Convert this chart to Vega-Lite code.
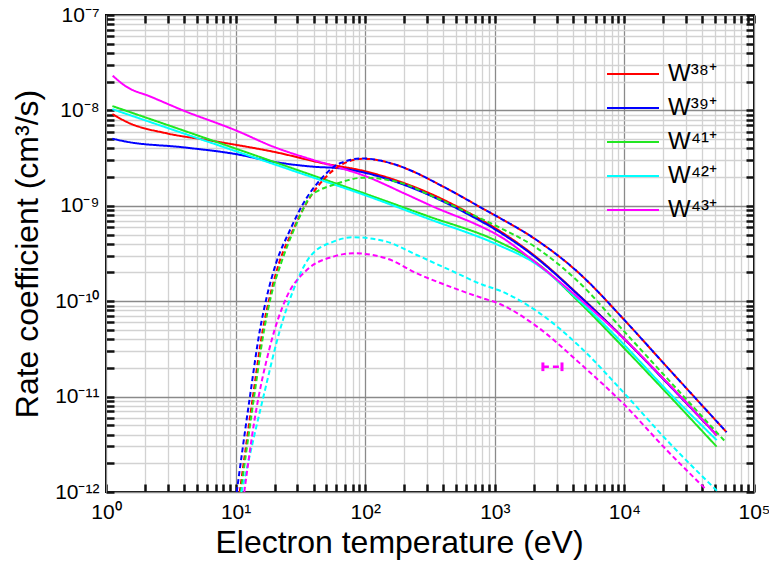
{
  "$schema": "https://vega.github.io/schema/vega-lite/v6.json",
  "width": 648,
  "height": 477,
  "autosize": "none",
  "padding": {"left": 106, "top": 15, "right": 15, "bottom": 78},
  "background": "white",
  "config": {
    "font": "Liberation Sans",
    "view": {"stroke": "black", "strokeWidth": 2},
    "axis": {"labelFont": "Liberation Sans", "titleFont": "Liberation Sans", "titleFontWeight": "normal", "labelColor": "black", "titleColor": "black"}
  },
  "datasets": {
    "curves": [
      {"s":"W³⁸⁺","k":"solid","T":1.12,"R":9.17e-9},
      {"s":"W³⁸⁺","k":"solid","T":1.43,"R":7.62e-9},
      {"s":"W³⁸⁺","k":"solid","T":2.94,"R":5.75e-9},
      {"s":"W³⁸⁺","k":"solid","T":5.98,"R":4.9e-9},
      {"s":"W³⁸⁺","k":"solid","T":10.2,"R":4.34e-9},
      {"s":"W³⁸⁺","k":"solid","T":19.5,"R":3.69e-9},
      {"s":"W³⁸⁺","k":"solid","T":47.5,"R":2.79e-9},
      {"s":"W³⁸⁺","k":"solid","T":102.6,"R":2.28e-9},
      {"s":"W³⁸⁺","k":"solid","T":185.7,"R":1.79e-9},
      {"s":"W³⁸⁺","k":"solid","T":335,"R":1.30e-9},
      {"s":"W³⁸⁺","k":"solid","T":607,"R":8.67e-10},
      {"s":"W³⁸⁺","k":"solid","T":1064,"R":5.57e-10},
      {"s":"W³⁸⁺","k":"solid","T":2040,"R":2.98e-10},
      {"s":"W³⁸⁺","k":"solid","T":4540,"R":1.13e-10},
      {"s":"W³⁸⁺","k":"solid","T":10000,"R":4.02e-11},
      {"s":"W³⁸⁺","k":"solid","T":21200,"R":1.42e-11},
      {"s":"W³⁸⁺","k":"solid","T":51500,"R":3.95e-12},

      {"s":"W³⁹⁺","k":"solid","T":1.12,"R":5.05e-9},
      {"s":"W³⁹⁺","k":"solid","T":1.44,"R":4.7e-9},
      {"s":"W³⁹⁺","k":"solid","T":3.95,"R":4.1e-9},
      {"s":"W³⁹⁺","k":"solid","T":10.2,"R":3.47e-9},
      {"s":"W³⁹⁺","k":"solid","T":19.4,"R":2.9e-9},
      {"s":"W³⁹⁺","k":"solid","T":39.6,"R":2.57e-9},
      {"s":"W³⁹⁺","k":"solid","T":63.7,"R":2.47e-9},
      {"s":"W³⁹⁺","k":"solid","T":91,"R":2.28e-9},
      {"s":"W³⁹⁺","k":"solid","T":185.7,"R":1.72e-9},
      {"s":"W³⁹⁺","k":"solid","T":335,"R":1.24e-9},
      {"s":"W³⁹⁺","k":"solid","T":607,"R":8.3e-10},
      {"s":"W³⁹⁺","k":"solid","T":1064,"R":5.4e-10},
      {"s":"W³⁹⁺","k":"solid","T":2040,"R":2.92e-10},
      {"s":"W³⁹⁺","k":"solid","T":4540,"R":1.12e-10},
      {"s":"W³⁹⁺","k":"solid","T":10000,"R":4.0e-11},
      {"s":"W³⁹⁺","k":"solid","T":21200,"R":1.4e-11},
      {"s":"W³⁹⁺","k":"solid","T":51500,"R":3.95e-12},

      {"s":"W⁴¹⁺","k":"solid","T":1.12,"R":1.11e-8},
      {"s":"W⁴¹⁺","k":"solid","T":3,"R":7.01e-9},
      {"s":"W⁴¹⁺","k":"solid","T":10,"R":3.98e-9},
      {"s":"W⁴¹⁺","k":"solid","T":30,"R":2.37e-9},
      {"s":"W⁴¹⁺","k":"solid","T":100,"R":1.34e-9},
      {"s":"W⁴¹⁺","k":"solid","T":300,"R":7.85e-10},
      {"s":"W⁴¹⁺","k":"solid","T":1064,"R":4.21e-10},
      {"s":"W⁴¹⁺","k":"solid","T":2040,"R":2.6e-10},
      {"s":"W⁴¹⁺","k":"solid","T":4540,"R":9.6e-11},
      {"s":"W⁴¹⁺","k":"solid","T":10000,"R":3.2e-11},
      {"s":"W⁴¹⁺","k":"solid","T":21200,"R":1.09e-11},
      {"s":"W⁴¹⁺","k":"solid","T":51500,"R":2.99e-12},

      {"s":"W⁴²⁺","k":"solid","T":1.12,"R":1.03e-8},
      {"s":"W⁴²⁺","k":"solid","T":3,"R":6.53e-9},
      {"s":"W⁴²⁺","k":"solid","T":10,"R":3.74e-9},
      {"s":"W⁴²⁺","k":"solid","T":30,"R":2.25e-9},
      {"s":"W⁴²⁺","k":"solid","T":100,"R":1.29e-9},
      {"s":"W⁴²⁺","k":"solid","T":300,"R":7.4e-10},
      {"s":"W⁴²⁺","k":"solid","T":1064,"R":3.88e-10},
      {"s":"W⁴²⁺","k":"solid","T":2040,"R":2.5e-10},
      {"s":"W⁴²⁺","k":"solid","T":4540,"R":1.0e-10},
      {"s":"W⁴²⁺","k":"solid","T":10000,"R":3.47e-11},
      {"s":"W⁴²⁺","k":"solid","T":21200,"R":1.17e-11},
      {"s":"W⁴²⁺","k":"solid","T":51500,"R":3.5e-12},

      {"s":"W⁴³⁺","k":"solid","T":1.126,"R":2.31e-8},
      {"s":"W⁴³⁺","k":"solid","T":1.43,"R":1.78e-8},
      {"s":"W⁴³⁺","k":"solid","T":2.19,"R":1.40e-8},
      {"s":"W⁴³⁺","k":"solid","T":3.93,"R":1.0e-8},
      {"s":"W⁴³⁺","k":"solid","T":10.2,"R":6.12e-9},
      {"s":"W⁴³⁺","k":"solid","T":19.5,"R":4.17e-9},
      {"s":"W⁴³⁺","k":"solid","T":39.8,"R":3.02e-9},
      {"s":"W⁴³⁺","k":"solid","T":56.8,"R":2.62e-9},
      {"s":"W⁴³⁺","k":"solid","T":100,"R":2.05e-9},
      {"s":"W⁴³⁺","k":"solid","T":200,"R":1.35e-9},
      {"s":"W⁴³⁺","k":"solid","T":335,"R":9.8e-10},
      {"s":"W⁴³⁺","k":"solid","T":815,"R":5.9e-10},
      {"s":"W⁴³⁺","k":"solid","T":1064,"R":4.9e-10},
      {"s":"W⁴³⁺","k":"solid","T":2040,"R":2.58e-10},
      {"s":"W⁴³⁺","k":"solid","T":4540,"R":1.05e-10},
      {"s":"W⁴³⁺","k":"solid","T":10000,"R":4.0e-11},
      {"s":"W⁴³⁺","k":"solid","T":21200,"R":1.42e-11},
      {"s":"W⁴³⁺","k":"solid","T":51500,"R":3.95e-12},

      {"s":"W³⁸⁺","k":"dashed","T":10.76,"R":1e-12},
      {"s":"W³⁸⁺","k":"dashed","T":13.6,"R":1.0e-11},
      {"s":"W³⁸⁺","k":"dashed","T":16.2,"R":5.0e-11},
      {"s":"W³⁸⁺","k":"dashed","T":18.35,"R":1.11e-10},
      {"s":"W³⁸⁺","k":"dashed","T":21.6,"R":2.49e-10},
      {"s":"W³⁸⁺","k":"dashed","T":27.7,"R":5.57e-10},
      {"s":"W³⁸⁺","k":"dashed","T":35.1,"R":1.06e-9},
      {"s":"W³⁸⁺","k":"dashed","T":47.3,"R":1.86e-9},
      {"s":"W³⁸⁺","k":"dashed","T":67.4,"R":2.75e-9},
      {"s":"W³⁸⁺","k":"dashed","T":97,"R":3.12e-9},
      {"s":"W³⁸⁺","k":"dashed","T":130,"R":2.98e-9},
      {"s":"W³⁸⁺","k":"dashed","T":185.7,"R":2.6e-9},
      {"s":"W³⁸⁺","k":"dashed","T":250,"R":2.2e-9},
      {"s":"W³⁸⁺","k":"dashed","T":335,"R":1.8e-9},
      {"s":"W³⁸⁺","k":"dashed","T":500,"R":1.35e-9},
      {"s":"W³⁸⁺","k":"dashed","T":769,"R":9.7e-10},
      {"s":"W³⁸⁺","k":"dashed","T":1064,"R":7.6e-10},
      {"s":"W³⁸⁺","k":"dashed","T":2040,"R":4.5e-10},
      {"s":"W³⁸⁺","k":"dashed","T":4540,"R":1.93e-10},
      {"s":"W³⁸⁺","k":"dashed","T":10000,"R":6.35e-11},
      {"s":"W³⁸⁺","k":"dashed","T":21200,"R":2.06e-11},
      {"s":"W³⁸⁺","k":"dashed","T":61500,"R":4.23e-12},

      {"s":"W³⁹⁺","k":"dashed","T":10.2,"R":1e-12},
      {"s":"W³⁹⁺","k":"dashed","T":12.9,"R":1.0e-11},
      {"s":"W³⁹⁺","k":"dashed","T":15.4,"R":4.99e-11},
      {"s":"W³⁹⁺","k":"dashed","T":17.4,"R":1.11e-10},
      {"s":"W³⁹⁺","k":"dashed","T":20.5,"R":2.49e-10},
      {"s":"W³⁹⁺","k":"dashed","T":26.3,"R":5.57e-10},
      {"s":"W³⁹⁺","k":"dashed","T":33.3,"R":1.06e-9},
      {"s":"W³⁹⁺","k":"dashed","T":44.8,"R":1.86e-9},
      {"s":"W³⁹⁺","k":"dashed","T":63.9,"R":2.79e-9},
      {"s":"W³⁹⁺","k":"dashed","T":96,"R":3.14e-9},
      {"s":"W³⁹⁺","k":"dashed","T":130,"R":2.98e-9},
      {"s":"W³⁹⁺","k":"dashed","T":185.7,"R":2.6e-9},
      {"s":"W³⁹⁺","k":"dashed","T":250,"R":2.2e-9},
      {"s":"W³⁹⁺","k":"dashed","T":335,"R":1.8e-9},
      {"s":"W³⁹⁺","k":"dashed","T":500,"R":1.35e-9},
      {"s":"W³⁹⁺","k":"dashed","T":769,"R":9.7e-10},
      {"s":"W³⁹⁺","k":"dashed","T":1064,"R":7.6e-10},
      {"s":"W³⁹⁺","k":"dashed","T":2040,"R":4.5e-10},
      {"s":"W³⁹⁺","k":"dashed","T":4540,"R":1.93e-10},
      {"s":"W³⁹⁺","k":"dashed","T":10000,"R":6.35e-11},
      {"s":"W³⁹⁺","k":"dashed","T":21200,"R":2.06e-11},
      {"s":"W³⁹⁺","k":"dashed","T":61500,"R":4.23e-12},

      {"s":"W⁴¹⁺","k":"dashed","T":10.95,"R":1e-12},
      {"s":"W⁴¹⁺","k":"dashed","T":13.9,"R":1.0e-11},
      {"s":"W⁴¹⁺","k":"dashed","T":16.6,"R":5.0e-11},
      {"s":"W⁴¹⁺","k":"dashed","T":18.7,"R":1.11e-10},
      {"s":"W⁴¹⁺","k":"dashed","T":22.4,"R":2.49e-10},
      {"s":"W⁴¹⁺","k":"dashed","T":27.7,"R":5.31e-10},
      {"s":"W⁴¹⁺","k":"dashed","T":31.4,"R":7.82e-10},
      {"s":"W⁴¹⁺","k":"dashed","T":37.5,"R":1.25e-9},
      {"s":"W⁴¹⁺","k":"dashed","T":44.8,"R":1.47e-9},
      {"s":"W⁴¹⁺","k":"dashed","T":56.8,"R":1.66e-9},
      {"s":"W⁴¹⁺","k":"dashed","T":97,"R":1.97e-9},
      {"s":"W⁴¹⁺","k":"dashed","T":185.7,"R":1.75e-9},
      {"s":"W⁴¹⁺","k":"dashed","T":335,"R":1.25e-9},
      {"s":"W⁴¹⁺","k":"dashed","T":607,"R":8.6e-10},
      {"s":"W⁴¹⁺","k":"dashed","T":1064,"R":6.0e-10},
      {"s":"W⁴¹⁺","k":"dashed","T":2040,"R":3.72e-10},
      {"s":"W⁴¹⁺","k":"dashed","T":4540,"R":1.54e-10},
      {"s":"W⁴¹⁺","k":"dashed","T":10000,"R":4.79e-11},
      {"s":"W⁴¹⁺","k":"dashed","T":21200,"R":1.57e-11},
      {"s":"W⁴¹⁺","k":"dashed","T":59700,"R":3.4e-12},

      {"s":"W⁴²⁺","k":"dashed","T":11.1,"R":1e-12},
      {"s":"W⁴²⁺","k":"dashed","T":16.4,"R":1e-11},
      {"s":"W⁴²⁺","k":"dashed","T":22,"R":5e-11},
      {"s":"W⁴²⁺","k":"dashed","T":27.9,"R":1.31e-10},
      {"s":"W⁴²⁺","k":"dashed","T":37.5,"R":2.93e-10},
      {"s":"W⁴²⁺","k":"dashed","T":56.8,"R":4.21e-10},
      {"s":"W⁴²⁺","k":"dashed","T":81,"R":4.68e-10},
      {"s":"W⁴²⁺","k":"dashed","T":146,"R":4.21e-10},
      {"s":"W⁴²⁺","k":"dashed","T":250,"R":3.05e-10},
      {"s":"W⁴²⁺","k":"dashed","T":451,"R":2.12e-10},
      {"s":"W⁴²⁺","k":"dashed","T":815,"R":1.48e-10},
      {"s":"W⁴²⁺","k":"dashed","T":1064,"R":1.31e-10},
      {"s":"W⁴²⁺","k":"dashed","T":2040,"R":8.1e-11},
      {"s":"W⁴²⁺","k":"dashed","T":4540,"R":3.33e-11},
      {"s":"W⁴²⁺","k":"dashed","T":10000,"R":1.08e-11},
      {"s":"W⁴²⁺","k":"dashed","T":21200,"R":3.5e-12},
      {"s":"W⁴²⁺","k":"dashed","T":53000,"R":1.0e-12},

      {"s":"W⁴³⁺","k":"dashed","T":11.67,"R":1e-12},
      {"s":"W⁴³⁺","k":"dashed","T":14.0,"R":5.7e-12},
      {"s":"W⁴³⁺","k":"dashed","T":18.4,"R":3.33e-11},
      {"s":"W⁴³⁺","k":"dashed","T":24.8,"R":1.11e-10},
      {"s":"W⁴³⁺","k":"dashed","T":35.4,"R":2.12e-10},
      {"s":"W⁴³⁺","k":"dashed","T":56.8,"R":2.93e-10},
      {"s":"W⁴³⁺","k":"dashed","T":81,"R":3.18e-10},
      {"s":"W⁴³⁺","k":"dashed","T":146,"R":2.81e-10},
      {"s":"W⁴³⁺","k":"dashed","T":250,"R":1.96e-10},
      {"s":"W⁴³⁺","k":"dashed","T":451,"R":1.42e-10},
      {"s":"W⁴³⁺","k":"dashed","T":815,"R":1.07e-10},
      {"s":"W⁴³⁺","k":"dashed","T":1064,"R":9.5e-11},
      {"s":"W⁴³⁺","k":"dashed","T":2040,"R":5.62e-11},
      {"s":"W⁴³⁺","k":"dashed","T":4540,"R":2.23e-11},
      {"s":"W⁴³⁺","k":"dashed","T":10000,"R":8.2e-12},
      {"s":"W⁴³⁺","k":"dashed","T":21200,"R":2.75e-12},
      {"s":"W⁴³⁺","k":"dashed","T":43000,"R":1.05e-12}
    ],
    "bar": [{"lo": 2350, "hi": 3300, "R": 2.05e-11}],
    "caps": [{"T": 2350, "lo": 1.85e-11, "hi": 2.28e-11}, {"T": 3300, "lo": 1.85e-11, "hi": 2.28e-11}]
  },
  "resolve": {"axis": {"x": "independent", "y": "independent"}},
  "layer": [
    {
      "data": {"name": "curves"},
      "mark": {"type": "line", "strokeWidth": 2, "clip": true, "interpolate": "monotone"},
      "encoding": {
        "x": {
          "field": "T", "type": "quantitative",
          "scale": {"type": "log", "domain": [1, 100000], "nice": false},
          "axis": {
            "orient": "bottom",
            "title": "Electron temperature (eV)",
            "titleFontSize": 32, "titlePadding": 5, "titleX": 293,
            "values": [1,2,3,4,5,6,7,8,9,10,20,30,40,50,60,70,80,90,100,200,300,400,500,600,700,800,900,1000,2000,3000,4000,5000,6000,7000,8000,9000,10000,20000,30000,40000,50000,60000,70000,80000,90000,100000],
            "labelExpr": "abs(log(datum.value)/LN10 - round(log(datum.value)/LN10)) < 0.001 ? ['10⁰','10¹','10²','10³','10⁴','10⁵'][round(log(datum.value)/LN10)] : ''",
            "labelFontSize": 21, "labelFlush": false, "labelOverlap": false, "labelBound": false,
            "labelPadding": 17,
            "grid": true,
            "gridColor": {"condition": {"test": "abs(log(datum.value)/LN10 - round(log(datum.value)/LN10)) < 0.001", "value": "#8a8a8a"}, "value": "#d2d2d2"},
            "gridWidth": 1.3,
            "tickColor": "#111111", "tickWidth": 2.5,
            "tickSize": -8
          }
        },
        "y": {
          "field": "R", "type": "quantitative",
          "scale": {"type": "log", "domain": [1e-12, 1e-7], "nice": false},
          "axis": {
            "orient": "left",
            "title": "Rate coefficient (cm³/s)",
            "titleFontSize": 32, "titlePadding": 10,
            "values": [1e-12,2e-12,3e-12,4e-12,5e-12,6e-12,7e-12,8e-12,9e-12,1e-11,2e-11,3e-11,4e-11,5e-11,6e-11,7e-11,8e-11,9e-11,1e-10,2e-10,3e-10,4e-10,5e-10,6e-10,7e-10,8e-10,9e-10,1e-9,2e-9,3e-9,4e-9,5e-9,6e-9,7e-9,8e-9,9e-9,1e-8,2e-8,3e-8,4e-8,5e-8,6e-8,7e-8,8e-8,9e-8,1e-7],
            "labelExpr": "abs(log(datum.value)/LN10 - round(log(datum.value)/LN10)) < 0.001 ? ['10⁻⁷','10⁻⁸','10⁻⁹','10⁻¹⁰','10⁻¹¹','10⁻¹²'][-7 - round(log(datum.value)/LN10)] : ''",
            "labelFontSize": 21, "labelFlush": false, "labelOverlap": false, "labelBound": false,
            "labelPadding": 15,
            "grid": true,
            "gridColor": {"condition": {"test": "abs(log(datum.value)/LN10 - round(log(datum.value)/LN10)) < 0.001", "value": "#8a8a8a"}, "value": "#d2d2d2"},
            "gridWidth": 1.3,
            "tickColor": "#111111", "tickWidth": 2.5,
            "tickSize": -8
          }
        },
        "color": {
          "field": "s", "type": "nominal",
          "scale": {"domain": ["W³⁸⁺","W³⁹⁺","W⁴¹⁺","W⁴²⁺","W⁴³⁺"], "range": ["#ff0000","#0000ff","#22e622","#00ffff","#ff00ff"]},
          "legend": {
            "orient": "none", "legendX": 500, "legendY": 44, "title": null,
            "symbolType": "stroke", "symbolSize": 2704, "symbolStrokeWidth": 2,
            "labelFontSize": 24, "labelFont": "Liberation Sans", "labelColor": "black",
            "clipHeight": 30, "rowPadding": 4, "labelOffset": 8
          }
        },
        "strokeDash": {
          "field": "k", "type": "nominal",
          "scale": {"domain": ["solid", "dashed"], "range": [[1, 0], [5, 3]]},
          "legend": null
        }
      }
    },
    {
      "data": {"name": "bar"},
      "mark": {"type": "rule", "color": "#ff00ff", "strokeWidth": 2.5, "strokeDash": [6, 4]},
      "encoding": {
        "x": {"field": "lo", "type": "quantitative",
          "axis": {"orient": "top", "title": null, "labels": false, "grid": false,
            "values": [1,2,3,4,5,6,7,8,9,10,20,30,40,50,60,70,80,90,100,200,300,400,500,600,700,800,900,1000,2000,3000,4000,5000,6000,7000,8000,9000,10000,20000,30000,40000,50000,60000,70000,80000,90000,100000],
            "tickColor": "#111111", "tickWidth": 2.5,
            "tickSize": -8}},
        "x2": {"field": "hi"},
        "y": {"field": "R", "type": "quantitative",
          "axis": {"orient": "right", "title": null, "labels": false, "grid": false,
            "values": [1e-12,2e-12,3e-12,4e-12,5e-12,6e-12,7e-12,8e-12,9e-12,1e-11,2e-11,3e-11,4e-11,5e-11,6e-11,7e-11,8e-11,9e-11,1e-10,2e-10,3e-10,4e-10,5e-10,6e-10,7e-10,8e-10,9e-10,1e-9,2e-9,3e-9,4e-9,5e-9,6e-9,7e-9,8e-9,9e-9,1e-8,2e-8,3e-8,4e-8,5e-8,6e-8,7e-8,8e-8,9e-8,1e-7],
            "tickColor": "#111111", "tickWidth": 2.5,
            "tickSize": -8}}
      }
    },
    {
      "data": {"name": "caps"},
      "mark": {"type": "rule", "color": "#ff00ff", "strokeWidth": 3},
      "encoding": {
        "x": {"field": "T", "type": "quantitative", "axis": null},
        "y": {"field": "lo", "type": "quantitative", "axis": null},
        "y2": {"field": "hi"}
      }
    }
  ]
}
